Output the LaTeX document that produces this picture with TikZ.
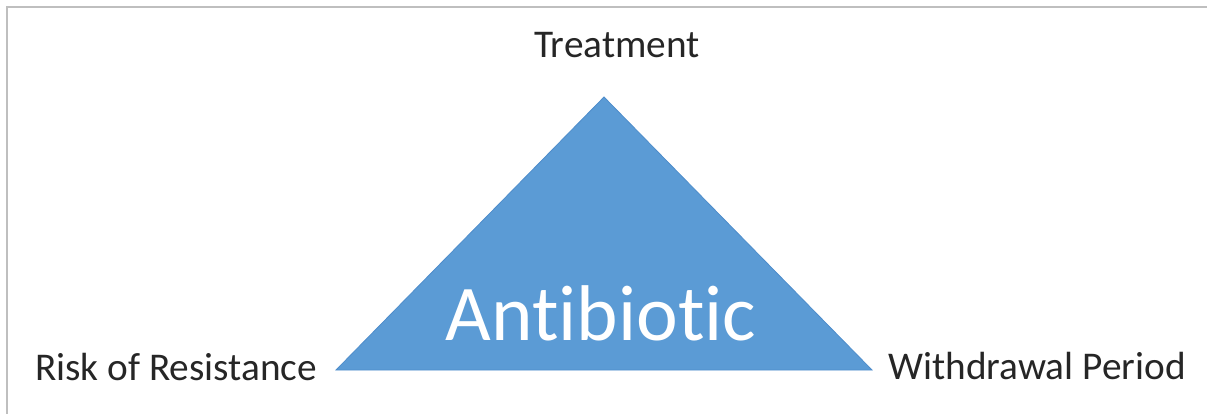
\documentclass[tikz,border=0pt]{standalone}
\usepackage{fontspec}
\setmainfont{Carlito}[Ligatures=NoCommon]
\usepackage{xcolor}
\usepackage{tikz}
\usetikzlibrary{positioning}

\definecolor{triblue}{HTML}{5B9BD5}
\definecolor{triedge}{HTML}{4F8DCB}
\definecolor{framegray}{HTML}{BFBFBF}
\definecolor{labelgray}{HTML}{262626}

\begin{document}
\begin{tikzpicture}[
x=1pt,
y=-1pt,
corner/.style={font=\fontsize{39.3}{42}\selectfont,text=labelgray,anchor=base,inner sep=0pt},
title/.style={font=\fontsize{79}{84}\selectfont,text=white,anchor=base,inner sep=0pt},
frame/.style={draw=framegray,line width=2pt}
]
\useasboundingbox (0,0) rectangle (1207,414);
\draw[frame] (7,414) -- (7,7) -- (1207,7);

% triangle corners
\coordinate (top) at (604,97);
\coordinate (left) at (336,370);
\coordinate (right) at (872,370);
\fill[triblue,draw=triedge,line width=0.8pt,line join=miter] (top) -- (left) -- (right) -- cycle;

\node[title] (drug) at (601,340) {Antibiotic};
\node[corner] (treat) at (617,58) {Treatment};
\node[corner] (risk) at (176,380) {Risk of Resistance};
\node[corner] (withdraw) at (1037,379) {Withdrawal Period};
\end{tikzpicture}
\end{document}
